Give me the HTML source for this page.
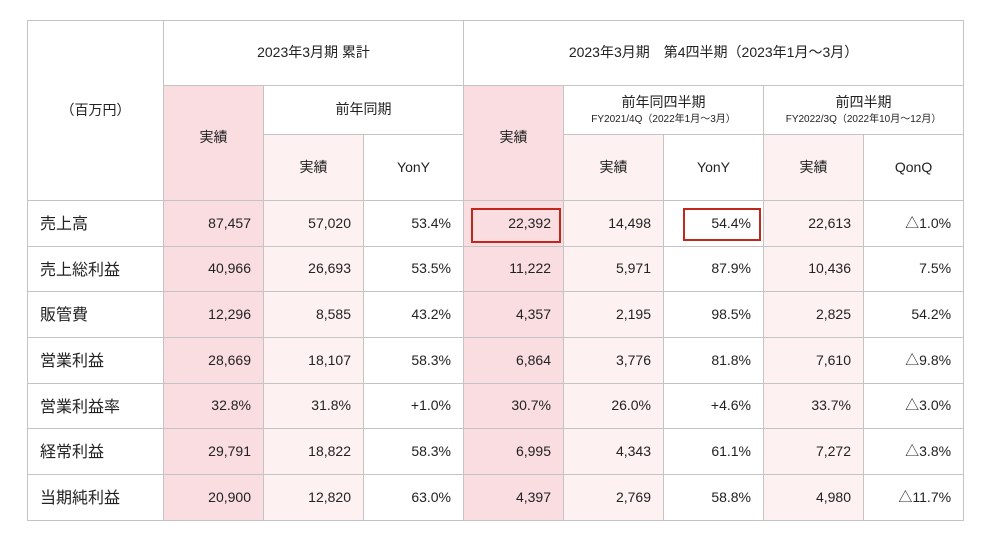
<!DOCTYPE html>
<html><head><meta charset="utf-8"><style>
body{margin:0;background:#fff;width:990px;height:543px;overflow:hidden;font-family:"Liberation Sans","Noto Sans CJK JP",sans-serif;color:#222;position:relative}
table{position:absolute;left:27px;top:20px;border-collapse:collapse;table-layout:fixed;width:935px}
td{border:1.5px solid #c4c4c4;font-size:14px;padding:0;text-align:center;vertical-align:middle;line-height:1.1}
.s{background:#f9dde1}.l{background:#fdf1f2}
.n td{text-align:right;padding-right:12px;height:44.7px}
.n td.lab{text-align:left;padding-left:12px;font-size:16px;line-height:1;padding-top:3px;height:41.7px}
.sub{font-size:10px;display:block;margin-top:3px}
.box{position:absolute;border:2.5px solid #c0281e;box-sizing:border-box}
</style></head><body>
<table>
<colgroup><col style="width:136px"><col span="8" style="width:100px"></colgroup>
<tr style="height:65px"><td rowspan="3">（百万円）</td><td colspan="3">2023年3月期 累計</td><td colspan="5">2023年3月期　第4四半期（2023年1月～3月）</td></tr>
<tr style="height:49px"><td rowspan="2" class="s" style="padding-bottom:10px">実績</td><td colspan="2">前年同期</td><td rowspan="2" class="s" style="padding-bottom:10px">実績</td><td colspan="2">前年同四半期<span class="sub">FY2021/4Q（2022年1月～3月）</span></td><td colspan="2">前四半期<span class="sub">FY2022/3Q（2022年10月～12月）</span></td></tr>
<tr style="height:66px"><td class="l">実績</td><td>YonY</td><td class="l">実績</td><td>YonY</td><td class="l">実績</td><td>QonQ</td></tr>
<tr class="n"><td class="lab">売上高</td><td class="s">87,457</td><td class="l">57,020</td><td>53.4%</td><td class="s">22,392</td><td class="l">14,498</td><td>54.4%</td><td class="l">22,613</td><td>△1.0%</td></tr>
<tr class="n"><td class="lab">売上総利益</td><td class="s">40,966</td><td class="l">26,693</td><td>53.5%</td><td class="s">11,222</td><td class="l">5,971</td><td>87.9%</td><td class="l">10,436</td><td>7.5%</td></tr>
<tr class="n"><td class="lab">販管費</td><td class="s">12,296</td><td class="l">8,585</td><td>43.2%</td><td class="s">4,357</td><td class="l">2,195</td><td>98.5%</td><td class="l">2,825</td><td>54.2%</td></tr>
<tr class="n"><td class="lab">営業利益</td><td class="s">28,669</td><td class="l">18,107</td><td>58.3%</td><td class="s">6,864</td><td class="l">3,776</td><td>81.8%</td><td class="l">7,610</td><td>△9.8%</td></tr>
<tr class="n"><td class="lab">営業利益率</td><td class="s">32.8%</td><td class="l">31.8%</td><td>+1.0%</td><td class="s">30.7%</td><td class="l">26.0%</td><td>+4.6%</td><td class="l">33.7%</td><td>△3.0%</td></tr>
<tr class="n"><td class="lab">経常利益</td><td class="s">29,791</td><td class="l">18,822</td><td>58.3%</td><td class="s">6,995</td><td class="l">4,343</td><td>61.1%</td><td class="l">7,272</td><td>△3.8%</td></tr>
<tr class="n"><td class="lab">当期純利益</td><td class="s">20,900</td><td class="l">12,820</td><td>63.0%</td><td class="s">4,397</td><td class="l">2,769</td><td>58.8%</td><td class="l">4,980</td><td>△11.7%</td></tr>
</table>
<div class="box" style="left:471px;top:208px;width:90px;height:35px"></div>
<div class="box" style="left:683px;top:208px;width:78px;height:33px"></div>
</body></html>
